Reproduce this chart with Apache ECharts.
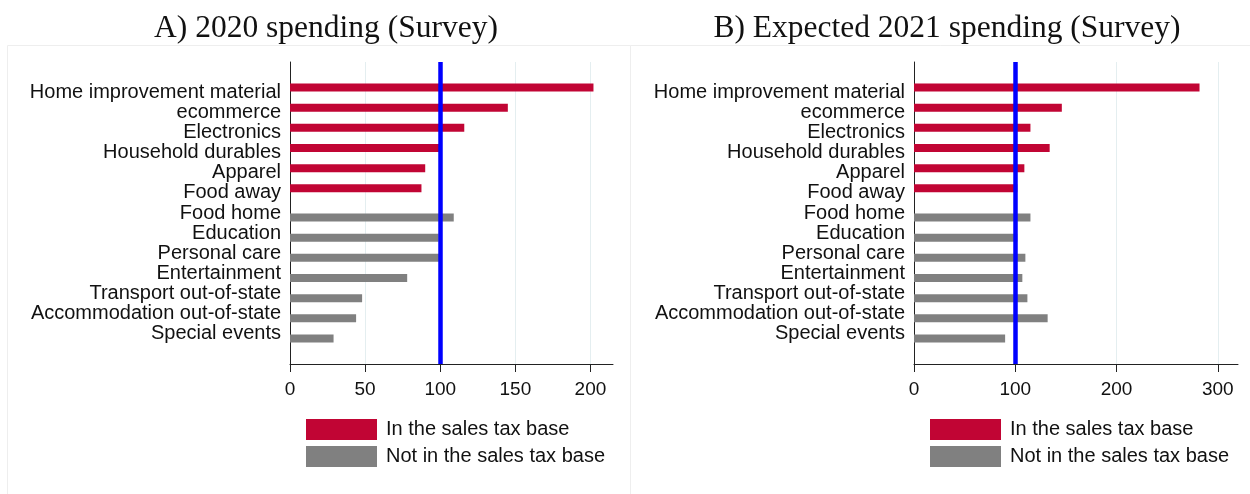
<!DOCTYPE html>
<html>
<head>
<meta charset="utf-8">
<script src="https://cdn.jsdelivr.net/npm/echarts@6/dist/echarts.min.js"></script>
<style>
  html, body { margin: 0; padding: 0; background: #fff; }
  #main { width: 1250px; height: 494px; }
</style>
</head>
<body>
<div id="main"></div>
<script>
// categories, in the sales tax base first
var catsIn = ['Home improvement material', 'ecommerce', 'Electronics', 'Household durables', 'Apparel', 'Food away'];
var catsOut = ['Food home', 'Education', 'Personal care', 'Entertainment', 'Transport out-of-state', 'Accommodation out-of-state', 'Special events'];

// A) 2020 spending
var spend2020In = [202, 145, 116, 101, 90, 87.5];
var spend2020Out = [109, 99, 100, 78, 48, 44, 29];

// B) Expected 2021 spending
var spend2021In = [282, 146, 115, 134, 109, 102];
var spend2021Out = [115, 102, 110, 107, 112, 132, 90];

var ticksA = [0, 50, 100, 150, 200];
var ticksB = [0, 100, 200, 300];

var titles = ['A) 2020 spending (Survey)', 'B) Expected 2021 spending (Survey)'];
var legendNames = ['In the sales tax base', 'Not in the sales tax base'];

var RED = '#c10534';
var GRAY = '#808080';
var SANS = 'Liberation Sans, Arial, sans-serif';

// category axis with one empty slot at each end (Stata leaves room there)
var yCats = [''].concat(catsIn, catsOut, ['']);

function padIn(vals) {
    var out = [null];
    vals.forEach(function (v) { out.push(v); });
    catsOut.forEach(function () { out.push(null); });
    out.push(null);
    return out;
}
function padOut(vals) {
    var out = [null];
    catsIn.forEach(function () { out.push(null); });
    vals.forEach(function (v) { out.push(v); });
    out.push(null);
    return out;
}

function xAxisFor(idx, ticks, max, interval) {
    return {
        gridIndex: idx,
        type: 'value',
        min: 0,
        max: max,
        interval: interval,
        axisLine: { show: true, lineStyle: { color: '#222', width: 1 } },
        axisTick: { show: true, inside: false, length: 8, lineStyle: { color: '#222' }, customValues: ticks },
        axisLabel: { fontFamily: SANS, fontSize: 19, color: '#111', margin: 16, customValues: ticks },
        splitLine: { show: true, lineStyle: { color: '#e4eef0', width: 1 } }
    };
}

function yAxisFor(idx) {
    return {
        gridIndex: idx,
        type: 'category',
        data: yCats,
        inverse: true,
        axisLine: { show: true, lineStyle: { color: '#222', width: 1 } },
        axisTick: { show: false },
        axisLabel: { fontFamily: SANS, fontSize: 20, color: '#111', margin: 9, interval: 0 },
        splitLine: { show: false }
    };
}

function barSeries(name, idx, data, color, withLine) {
    var s = {
        name: name,
        type: 'bar',
        xAxisIndex: idx,
        yAxisIndex: idx,
        data: data,
        barWidth: 8,
        barGap: '15%',
        itemStyle: { color: color },
        silent: true,
        animation: false
    };
    if (withLine) {
        s.markLine = {
            silent: true,
            symbol: 'none',
            label: { show: false },
            lineStyle: { color: '#0000ff', width: 4.5, type: 'solid' },
            data: [{ xAxis: 100 }]
        };
    }
    return s;
}

var myChart = echarts.init(document.getElementById('main'));

var titleStyle = { fontFamily: 'Liberation Serif, serif', fontSize: 31.5, fontWeight: 'normal', color: '#111' };
var legendText = { fontFamily: SANS, fontSize: 20, color: '#111', lineHeight: 21, padding: [0, 0, 0, 4] };

var option = {
    backgroundColor: '#ffffff',
    animation: false,
    title: [
        { text: titles[0], left: 321, top: 8, textAlign: 'center', textStyle: titleStyle },
        { text: titles[1], left: 942, top: 8, textAlign: 'center', textStyle: titleStyle }
    ],
    grid: [
        { left: 290, top: 62, width: 323, height: 302 },
        { left: 914, top: 62, width: 324, height: 302 }
    ],
    xAxis: [
        xAxisFor(0, ticksA, 215, 50),
        xAxisFor(1, ticksB, 320, 100)
    ],
    yAxis: [yAxisFor(0), yAxisFor(1)],
    legend: [
        { data: legendNames, orient: 'vertical', left: 301, top: 414, itemWidth: 71, itemHeight: 21, itemGap: 6,
          icon: 'rect', selectedMode: false, textStyle: legendText },
        { data: legendNames, orient: 'vertical', left: 925, top: 414, itemWidth: 71, itemHeight: 21, itemGap: 6,
          icon: 'rect', selectedMode: false, textStyle: legendText }
    ],
    graphic: [
        { type: 'rect', silent: true, z: -10, shape: { x: 7.5, y: 45.5, width: 623, height: 460 },
          style: { fill: 'none', stroke: '#eeeeee', lineWidth: 1 } },
        { type: 'rect', silent: true, z: -10, shape: { x: 630.5, y: 45.5, width: 630, height: 460 },
          style: { fill: 'none', stroke: '#eeeeee', lineWidth: 1 } }
    ],
    series: [
        barSeries(legendNames[0], 0, padIn(spend2020In), RED, true),
        barSeries(legendNames[1], 0, padOut(spend2020Out), GRAY, false),
        barSeries(legendNames[0], 1, padIn(spend2021In), RED, true),
        barSeries(legendNames[1], 1, padOut(spend2021Out), GRAY, false)
    ]
};

myChart.setOption(option);
</script>
</body>
</html>
